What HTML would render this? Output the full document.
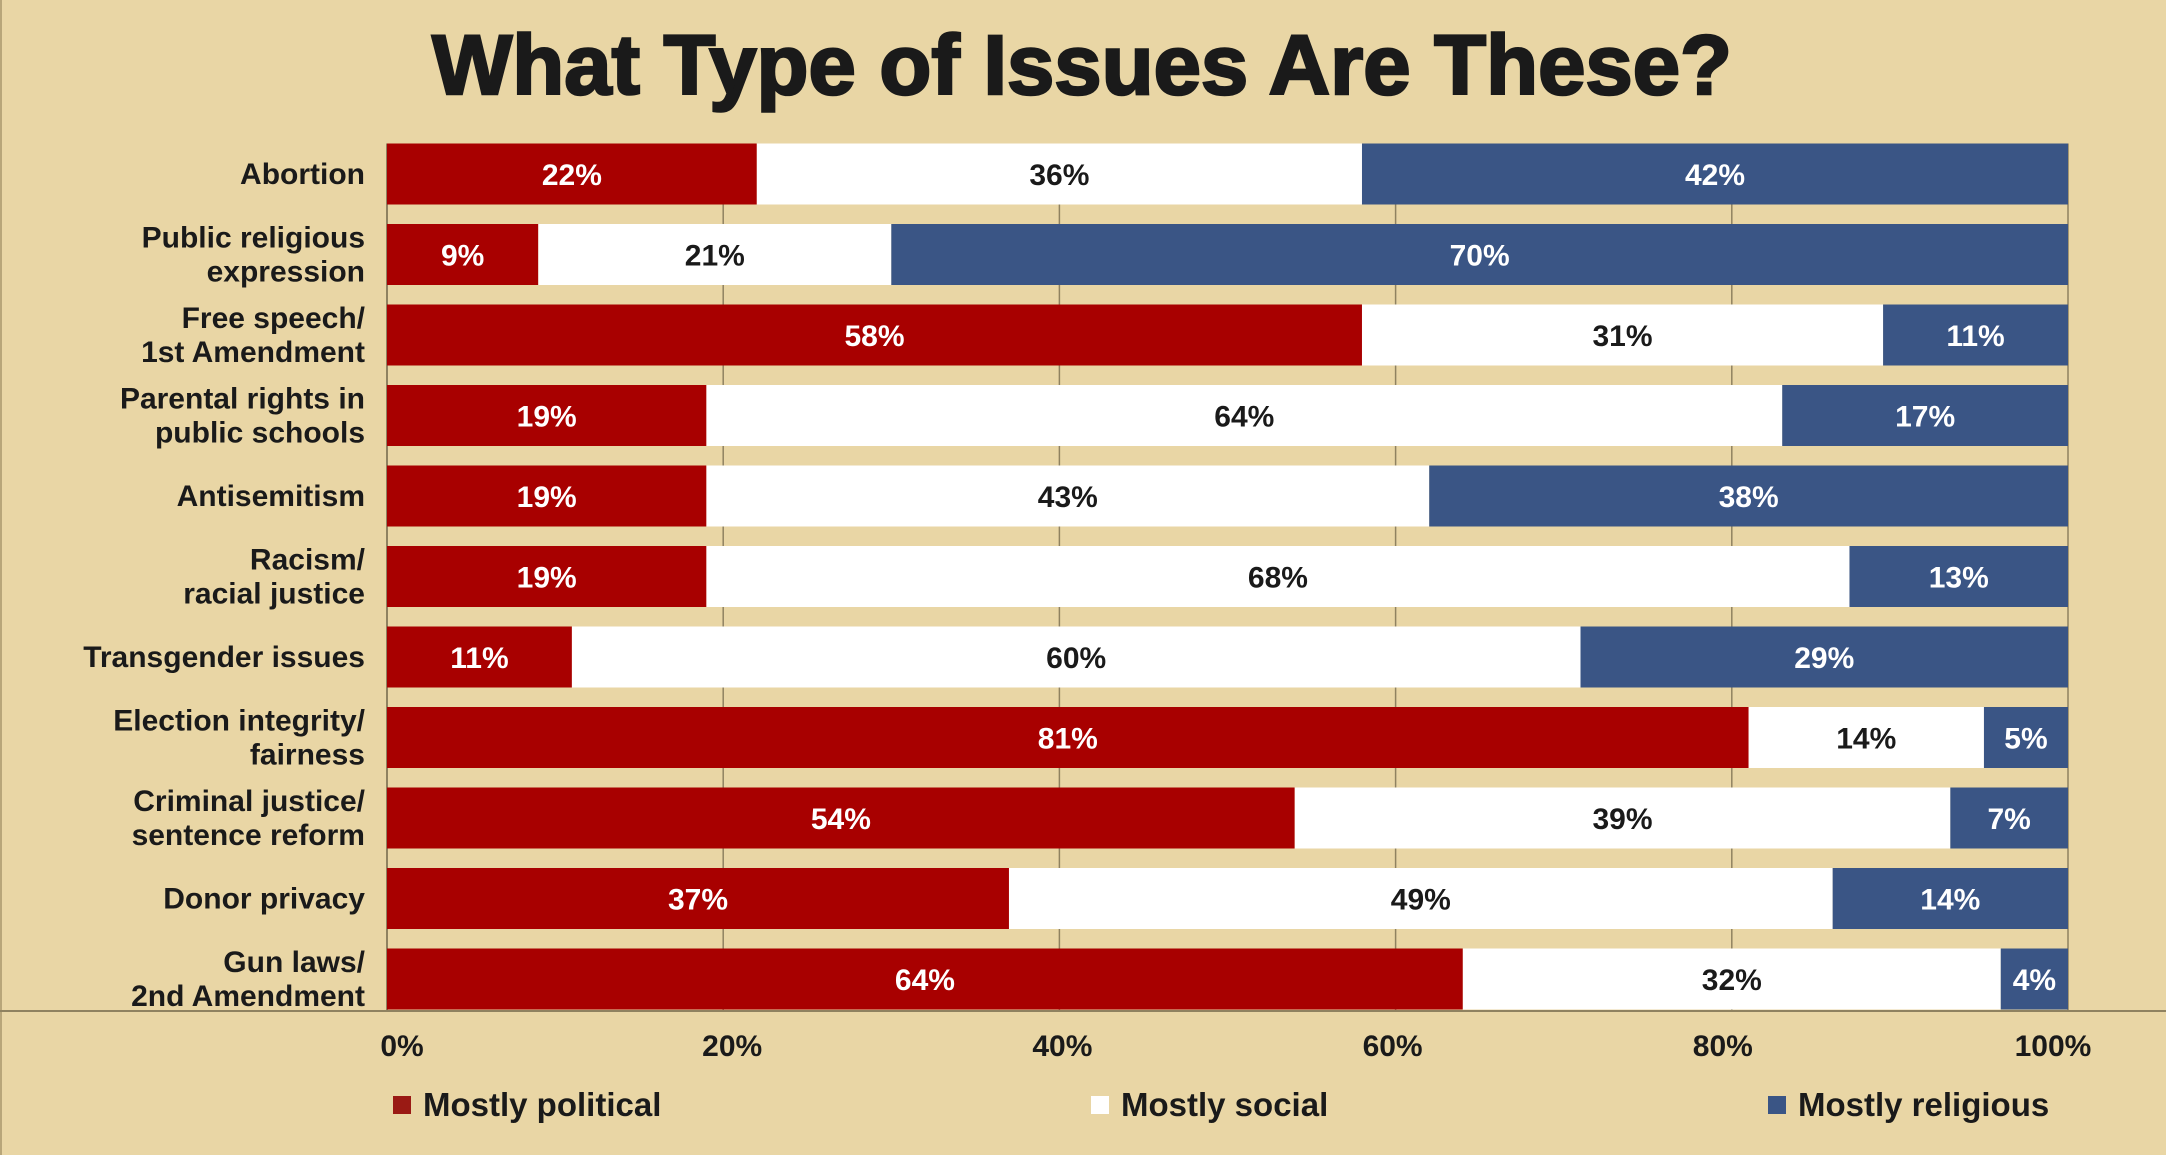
<!DOCTYPE html>
<html><head><meta charset="utf-8"><style>
html,body{margin:0;padding:0;background:#e9d6a5;}
svg{display:block;}
text{font-family:"Liberation Sans",sans-serif;font-weight:bold;}
.cat{font-family:"Liberation Sans Narrow","Liberation Sans",sans-serif;font-size:30px;fill:#1a1a1a;}
</style></head><body>
<svg id="chart" width="2166" height="1155" viewBox="0 0 2166 1155" xmlns="http://www.w3.org/2000/svg">
<rect x="0" y="0" width="2166" height="1155" fill="#e9d6a5"/>
<rect x="0" y="0" width="2" height="1155" fill="#b8a67a"/>
<text x="1082" y="94" text-anchor="middle" font-size="84" textLength="1300" lengthAdjust="spacingAndGlyphs" fill="#1a1a1a" stroke="#1a1a1a" stroke-width="2.5">What Type of Issues Are These?</text>
<g id="grid"></g><g id="bars"></g><g id="labels"></g><g id="axis"></g><g id="legend"></g>
</svg>
<script>
const categories=[["Abortion"],["Public religious","expression"],["Free speech/","1st Amendment"],["Parental rights in","public schools"],["Antisemitism"],["Racism/","racial justice"],["Transgender issues"],["Election integrity/","fairness"],["Criminal justice/","sentence reform"],["Donor privacy"],["Gun laws/","2nd Amendment"]];
const political=[22,9,58,19,19,19,11,81,54,37,64];
const social=[36,21,31,64,43,68,60,14,39,49,32];
const religious=[42,70,11,17,38,13,29,5,7,14,4];
const tickValues=[0,20,40,60,80,100];
const seriesNames=["Mostly political","Mostly social","Mostly religious"];
const colors=["#a80000","#ffffff","#3a5585"];
const textColors=["#ffffff","#1a1a1a","#ffffff"];
const NS="http://www.w3.org/2000/svg";
const X0=387,X1=2068,Y0=143.5,PITCH=80.5,BH=61,AXY=1011;
function x(v){return X0+(X1-X0)*v/100;}
function y(i){return Y0+PITCH*i;}
function mk(tag,attrs,parent){const e=document.createElementNS(NS,tag);for(const k in attrs)e.setAttribute(k,attrs[k]);parent.appendChild(e);return e;}
const grid=document.getElementById('grid'),bars=document.getElementById('bars'),labels=document.getElementById('labels'),axis=document.getElementById('axis'),legend=document.getElementById('legend');
tickValues.forEach((t,k)=>{
  const g=mk('line',{x1:x(t),x2:x(t),y1:Y0,y2:AXY,stroke:'#8f8260','stroke-width':t===0?2:1.5},grid);
  
  
  const tl=mk('text',{x:x(t)+15-30*t/100,y:1056,'text-anchor':'middle','font-size':30,fill:'#1a1a1a'},axis);
  tl.textContent=t+'%';
  
  
});
const al=mk('line',{x1:0,x2:2166,y1:AXY,y2:AXY,stroke:'#8f8260','stroke-width':2},axis);


const series=[political,social,religious];
categories.forEach((c,i)=>{
  let acc=0;
  series.forEach((s,j)=>{
    const v=s[i];
    const r=mk('rect',{x:x(acc),y:y(i),width:x(acc+v)-x(acc),height:BH,fill:colors[j]},bars);
    
    
    const t=mk('text',{x:(x(acc)+x(acc+v))/2,y:y(i)+BH/2+11,'text-anchor':'middle','font-size':30,fill:textColors[j]},labels);
    t.textContent=v+'%';
    
    
    acc+=v;
  });
  const cy=y(i)+BH/2;
  c.forEach((line,k)=>{
    const off=c.length===1?10:(k===0?-7:27);
    const t=mk('text',{x:365,y:cy+off,'text-anchor':'end',class:'cat'},labels);
    t.textContent=line;
    
    
  });
});
const legX=[393,1091,1768];
seriesNames.forEach((n,j)=>{
  const r=mk('rect',{x:legX[j],y:1096,width:18,height:18,fill:j===1?'#ffffff':(j===0?'#9a1a14':colors[j])},legend);
  
  
  const t=mk('text',{x:legX[j]+30,y:1116,'font-size':33,fill:'#1a1a1a'},legend);
  t.textContent=n;
  
  
});
</script>
</body></html>
